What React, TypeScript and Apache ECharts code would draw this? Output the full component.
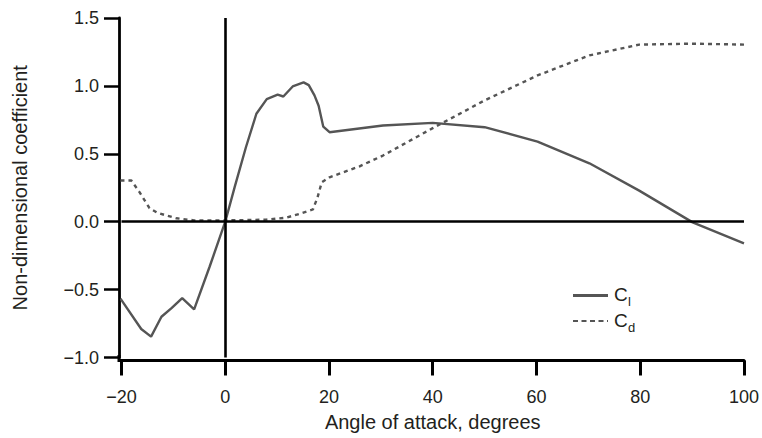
import React, { useEffect, useRef } from "react";
import * as echarts from "echarts";

const clAngles = [-20.2, -16.2, -14.3, -12.3, -10.3, -8.3, -6.0, -3, 0, 1.8, 4, 6.0, 8.0, 10.1, 11.2, 13.0, 15.1, 16.1, 17.2, 18.0, 18.9, 20.1, 30.4, 40.0, 50.0, 60.2, 70.2, 79.8, 90.1, 100];
const clValues = [-0.566, -0.79, -0.846, -0.70, -0.635, -0.563, -0.645, -0.33, 0, 0.253, 0.55, 0.795, 0.903, 0.935, 0.922, 0.996, 1.026, 1.006, 0.93, 0.854, 0.70, 0.659, 0.708, 0.728, 0.696, 0.59, 0.43, 0.229, -0.005, -0.16];

const cdAngles = [-20.2, -18.1, -16.5, -14.6, -13.0, -9.4, -6, 0, 4, 7.9, 11.8, 14.5, 16.9, 17.8, 18.6, 20.1, 25.9, 30.4, 40.0, 50.0, 60.2, 70.2, 79.8, 90.1, 100];
const cdValues = [0.303, 0.303, 0.216, 0.10, 0.064, 0.025, 0.01, 0.01, 0.012, 0.015, 0.03, 0.06, 0.09, 0.18, 0.29, 0.327, 0.408, 0.487, 0.689, 0.893, 1.077, 1.225, 1.304, 1.311, 1.304];

const xTicks = { min: -20, max: 100, interval: 20 };
const yTicks = { min: -1.0, max: 1.5, interval: 0.5 };

const legendLabels = [
  { main: "C", sub: "l" },
  { main: "C", sub: "d" },
];

const FONT = "Liberation Sans, Arial, Helvetica, sans-serif";
const TEXT = "#231f20";
const LINE = "#555555";

export default function App() {
  const ref = useRef<HTMLDivElement>(null);
  useEffect(() => {
    if (!ref.current) return;
    const chart = echarts.init(ref.current, undefined, { renderer: "svg" });
    const minus = (s: string) => s.replace("-", "\u2212");
    const legendY = [295.5, 321];
    const legendGraphics: any[] = [];
    legendLabels.forEach((l, i) => {
      legendGraphics.push({
        type: "line",
        shape: { x1: 573, y1: legendY[i], x2: 608, y2: legendY[i] },
        style: { stroke: LINE, lineWidth: i === 0 ? 3 : 2.2, lineDash: i === 0 ? null : [5, 3.5] },
      });
      legendGraphics.push({
        type: "text",
        x: 614,
        y: legendY[i] - 1,
        style: { text: l.main, font: `19px ${FONT}`, fill: TEXT, verticalAlign: "middle", align: "left" },
      });
      legendGraphics.push({
        type: "text",
        x: 628,
        y: legendY[i] + 6,
        style: { text: l.sub, font: `13px ${FONT}`, fill: TEXT, verticalAlign: "middle", align: "left" },
      });
    });
    chart.setOption({
      animation: false,
      backgroundColor: "#ffffff",
      textStyle: { fontFamily: FONT },
      grid: { left: 121.5, right: 17.5, top: 18, bottom: 80.5 },
      graphic: [
        ...legendGraphics,
        {
          type: "polyline",
          shape: { points: [[119, 355], [119, 360.5], [124, 360.5]] },
          style: { stroke: "#000", lineWidth: 3, fill: null },
        },
      ],
      xAxis: {
        type: "value",
        min: xTicks.min,
        max: xTicks.max,
        interval: xTicks.interval,
        offset: 3,
        name: "Angle of attack, degrees",
        nameLocation: "middle",
        nameGap: 51,
        nameTextStyle: { fontFamily: FONT, fontSize: 20, color: TEXT },
        axisLine: { onZero: false, lineStyle: { color: "#000", width: 3 } },
        axisTick: { length: 15, lineStyle: { color: "#000", width: 3 } },
        axisLabel: { fontFamily: FONT, fontSize: 18, color: TEXT, margin: 27, formatter: (v: number) => minus(String(v)) },
        splitLine: { show: false },
      },
      yAxis: {
        type: "value",
        min: yTicks.min,
        max: yTicks.max,
        interval: yTicks.interval,
        offset: 2.5,
        name: "Non-dimensional coefficient",
        nameLocation: "middle",
        nameGap: 89,
        nameTextStyle: { fontFamily: FONT, fontSize: 20, color: TEXT },
        axisLine: { onZero: false, lineStyle: { color: "#000", width: 2.8 } },
        axisTick: { length: 15, lineStyle: { color: "#000", width: 2.5 } },
        axisLabel: { fontFamily: FONT, fontSize: 18, color: TEXT, margin: 20, formatter: (v: number) => minus(v.toFixed(1)) },
        splitLine: { show: false },
      },
      series: [
        {
          name: "Cl",
          type: "line",
          data: clAngles.map((a, i) => [a, clValues[i]]),
          showSymbol: false,
          symbol: "none",
          lineStyle: { color: LINE, width: 2.4, type: "solid" },
          itemStyle: { color: LINE },
          z: 3,
          markLine: {
            silent: true,
            symbol: "none",
            label: { show: false },
            lineStyle: { color: "#000", width: 2.6, type: "solid" },
            data: [{ xAxis: 0 }, { yAxis: 0 }],
          },
        },
        {
          name: "Cd",
          type: "line",
          data: cdAngles.map((a, i) => [a, cdValues[i]]),
          showSymbol: false,
          symbol: "none",
          lineStyle: { color: LINE, width: 2.4, type: [4, 4] },
          itemStyle: { color: LINE },
          z: 3,
        },
      ],
    });
    return () => chart.dispose();
  }, []);
  return <div ref={ref} style={{ width: 762, height: 438, position: "absolute", left: 0, top: 0 }} />;
}
